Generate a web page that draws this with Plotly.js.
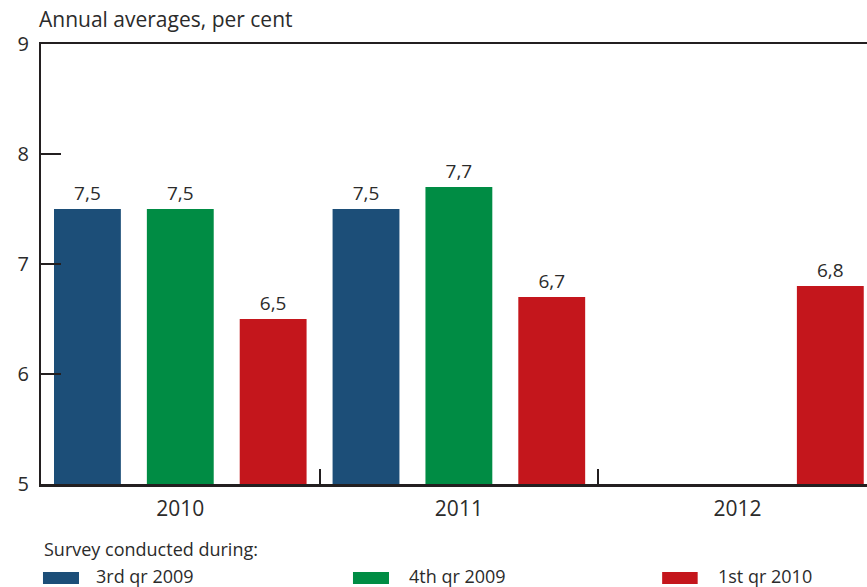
<!DOCTYPE html>
<html>
<head>
<meta charset="utf-8">
<script src="https://cdn.plot.ly/plotly-3.0.1.min.js"></script>
<style>
  html, body { margin: 0; padding: 0; background: #ffffff; }
  #chart { width: 867px; height: 587px; }
</style>
</head>
<body>
<div id="chart"></div>
<script>
// Years covered by the forecasts
const years = ["2010", "2011", "2012"];

// Forecast values (annual averages, per cent) by survey round
const q3_2009 = [7.5, 7.5, null];
const q4_2009 = [7.5, 7.7, null];
const q1_2010 = [6.5, 6.7, 6.8];

const seriesNames = ["3rd qr 2009", "4th qr 2009", "1st qr 2010"];
const seriesColors = ["#1c4e78", "#008c44", "#c4161c"];
const seriesValues = [q3_2009, q4_2009, q1_2010];

const yTicks = [5, 6, 7, 8, 9];

const fmt = v => (v === null ? "" : v.toFixed(1).replace(".", ","));

const textColor = "#2b2b2b";
const lineColor = "#231f20";
const fontFamily = "Open Sans, Liberation Sans, Arial, sans-serif";

const traces = seriesValues.map((vals, i) => ({
  type: "bar",
  name: seriesNames[i],
  x: years,
  y: vals,
  text: vals.map(fmt),
  textposition: "outside",
  cliponaxis: false,
  textfont: { family: fontFamily, size: 19, color: textColor },
  marker: { color: seriesColors[i], line: { width: 0 } },
  hoverinfo: "skip",
  showlegend: false
}));

// Legend drawn as swatches and labels below the plot
const legendX = [
  { sw: [0.0024, 0.046], tx: 0.0654 },
  { sw: [0.3777, 0.4213], tx: 0.4443 },
  { sw: [0.752, 0.795], tx: 0.818 }
];

const shapes = legendX.map((p, i) => ({
  type: "rect", xref: "paper", yref: "paper",
  x0: p.sw[0], x1: p.sw[1], y0: -0.2, y1: -0.227,
  fillcolor: seriesColors[i], line: { width: 0 }
}));

const annotations = legendX.map((p, i) => ({
  xref: "paper", yref: "paper", x: p.tx, y: -0.2085,
  xanchor: "left", yanchor: "middle", showarrow: false,
  borderpad: 0,
  text: seriesNames[i],
  font: { family: fontFamily, size: 18, color: textColor }
}));
annotations.push({
  xref: "paper", yref: "paper", x: 0.002, y: -0.147,
  xanchor: "left", yanchor: "middle", showarrow: false,
  borderpad: 0,
  text: "Survey conducted during:",
  font: { family: fontFamily, size: 18, color: textColor }
});

const layout = {
  width: 867,
  height: 587,
  margin: { l: 41, r: 0, t: 44, b: 103 },
  paper_bgcolor: "#ffffff",
  plot_bgcolor: "#ffffff",
  barmode: "group",
  bargap: 0,
  bargroupgap: 0.28,
  showlegend: false,
  title: {
    text: "Annual averages, per cent",
    x: 39 / 867, xanchor: "left",
    y: 1 - 20 / 587, yanchor: "middle",
    font: { family: fontFamily, size: 21, color: textColor }
  },
  xaxis: {
    type: "category",
    categoryorder: "array",
    categoryarray: years,
    range: [-0.5, 2.465],
    showline: true, mirror: true,
    linecolor: lineColor, linewidth: 2.5,
    showgrid: false, zeroline: false,
    tickson: "boundaries",
    ticks: "inside", ticklen: 15, tickwidth: 2, tickcolor: lineColor,
    ticklabelstandoff: 4,
    tickfont: { family: fontFamily, size: 21, color: textColor },
    fixedrange: true
  },
  yaxis: {
    range: [5, 9],
    tickvals: yTicks,
    ticktext: yTicks.map(String),
    showline: true,
    linecolor: lineColor, linewidth: 2,
    showgrid: false, zeroline: false,
    ticks: "inside", ticklen: 20, tickwidth: 2, tickcolor: lineColor,
    ticklabelstandoff: 6,
    tickfont: { family: fontFamily, size: 20, color: textColor },
    fixedrange: true
  },
  shapes: shapes,
  annotations: annotations
};

Plotly.newPlot("chart", traces, layout, { displayModeBar: false, staticPlot: true });
</script>
</body>
</html>
